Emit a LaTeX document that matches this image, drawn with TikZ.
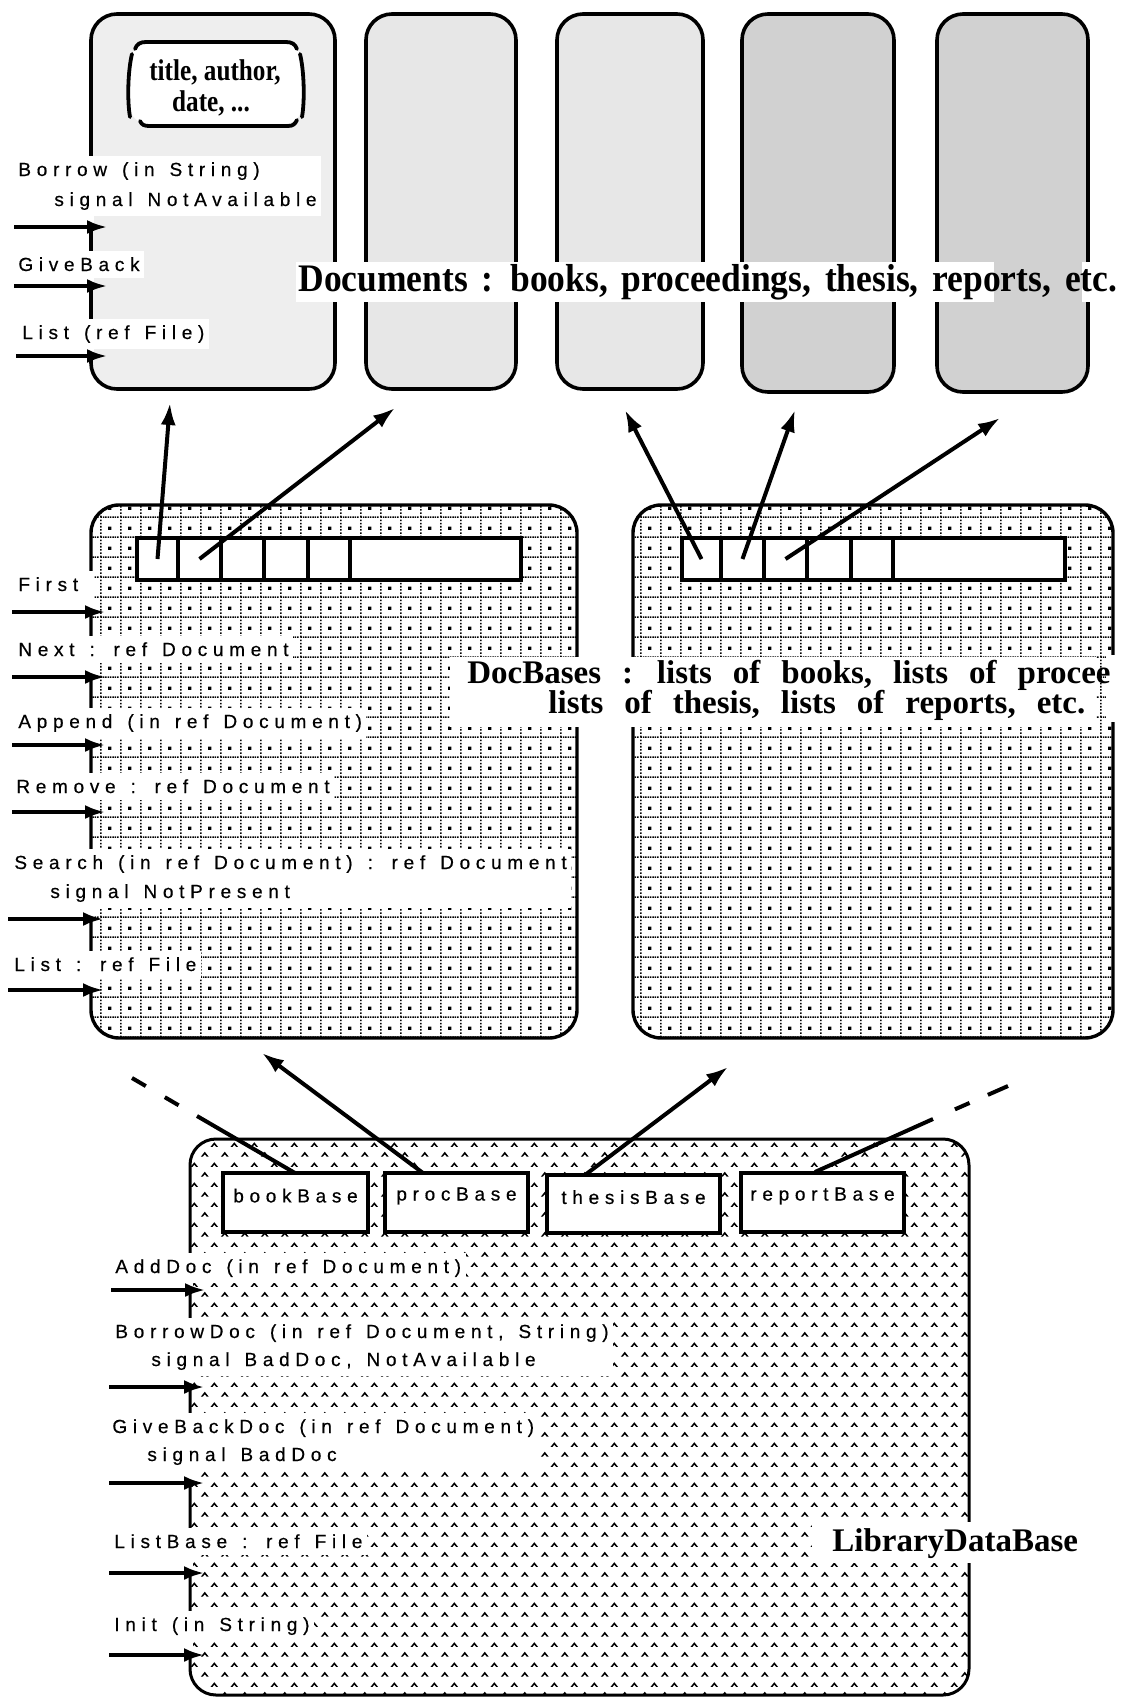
\documentclass[tikz,border=0pt]{standalone}
\usepackage{fontspec}
\usetikzlibrary{arrows.meta,fit,patterns}
\newfontfamily\opfont{Liberation Sans}[LetterSpace=30,FakeBold=0.5]
\newfontfamily\docfont{Liberation Serif}[FakeStretch=0.91]
\newfontfamily\basefont{Liberation Serif}
\newfontfamily\titlefont{Liberation Serif}[FakeStretch=0.84]
\newcommand\opsp{\spaceskip=7.5pt\relax}
\newcommand\docsp{\spaceskip=6.9pt\relax}
\newcommand\dbsp{\spaceskip=10.5pt\relax}
\pgfdeclarelayer{boxes}
\pgfdeclarelayer{blocks}
\pgfsetlayers{boxes,blocks,main}
\newcommand\mycaret[2]{%
  \pgfpathmoveto{\pgfpoint{#1pt-2.0pt}{#2pt-1.2pt}}%
  \pgfpathlineto{\pgfpoint{#1pt}{#2pt+1.3pt}}%
  \pgfpathlineto{\pgfpoint{#1pt+2.0pt}{#2pt-1.2pt}}%
  \pgfpathlineto{\pgfpoint{#1pt+1.0pt}{#2pt-1.2pt}}%
  \pgfpathlineto{\pgfpoint{#1pt}{#2pt+0.0pt}}%
  \pgfpathlineto{\pgfpoint{#1pt-1.0pt}{#2pt-1.2pt}}%
  \pgfpathclose\pgfusepath{fill}}
\pgfdeclarepatternformonly{carets}{\pgfqpoint{0pt}{0pt}}{\pgfqpoint{10pt}{10pt}}{\pgfqpoint{10pt}{10pt}}{\mycaret{2.5}{2.5}\mycaret{7.5}{7.5}}
\pgfdeclarepatternformonly{dbgrid}{\pgfqpoint{0pt}{0pt}}{\pgfqpoint{10pt}{10pt}}{\pgfqpoint{10pt}{10pt}}{%
  \foreach \k in {0,...,7}{\pgfpathrectangle{\pgfpoint{\k*1.25pt+0.2pt}{0.1pt}}{\pgfqpoint{0.8pt}{0.8pt}}\pgfusepath{fill}}%
  \foreach \k in {0,...,5}{\pgfpathrectangle{\pgfpoint{0.1pt}{\k*1.6667pt+0.5pt}}{\pgfqpoint{0.8pt}{0.8pt}}\pgfusepath{fill}}%
  \pgfpathrectangle{\pgfqpoint{4.3pt}{4.3pt}}{\pgfqpoint{1.6pt}{1.6pt}}\pgfusepath{fill}%
}
\begin{document}
\begin{tikzpicture}[x=0.5pt,y=-0.5pt,
  docbox/.style={draw, line width=1.8pt, rounded corners=13pt, inner sep=0pt},
  dbbox/.style={draw, line width=1.7pt, rounded corners=14pt, inner sep=0pt, pattern=dbgrid, pattern color=black},
  libbox/.style={draw, line width=1.5pt, rounded corners=13pt, inner sep=0pt, pattern=carets, pattern color=black},
  cell/.style={draw, fill=white, line width=1.6pt, inner sep=0pt},
  opfnt/.style={font=\opfont\fontsize{9.5pt}{12pt}\selectfont\opsp},
  basebox/.style={draw, fill=white, line width=1.6pt, inner sep=0pt, opfnt},
  oplabel/.style={anchor=base west, inner xsep=2pt, inner ysep=3pt, opfnt},
  blank/.style={fill=white, draw=none, inner sep=0pt},
  stroke/.style={line width=1.9pt, line cap=round},
  oparrow/.style={line width=1.7pt, -{Latex[length=10pt,width=7pt]}},
  refarrow/.style={line width=2pt, -{Latex[length=11pt,width=7.5pt]}},
  bigtext/.style={anchor=base west, inner sep=0pt},
  dbfnt/.style={font=\basefont\bfseries\fontsize{16.5pt}{17pt}\selectfont\dbsp},
  ttlfnt/.style={font=\titlefont\bfseries\fontsize{15pt}{16pt}\selectfont},
]
\useasboundingbox (0,0) rectangle (1120,1698);
\begin{pgfonlayer}{boxes}
\node[docbox, fill=gray!13, fit={(91,14) (335,389)}] (doc1) {};
\node[docbox, fill=gray!19, fit={(366,14) (516,389)}] (doc2) {};
\node[docbox, fill=gray!19, fit={(557,14) (703,389)}] (doc3) {};
\node[docbox, fill=gray!36, fit={(742,14) (894,392)}] (doc4) {};
\node[docbox, fill=gray!36, fit={(937,14) (1088,392)}] (doc5) {};
\node[blank, rounded corners=9pt, fit={(130,44) (302,124)}] (titlebox) {};
\draw[stroke] (135,49) .. controls (137,44) and (140,42) .. (146,42) -- (286,42) .. controls (292,42) and (295,44) .. (297,49);
\draw[stroke] (132,54) .. controls (128,70) and (127,100) .. (130,117);
\draw[stroke] (300,54) .. controls (304,70) and (305,100) .. (302,117);
\draw[stroke] (140,121) .. controls (142,125) and (144,126) .. (150,126) -- (288,126) .. controls (293,126) and (295,124) .. (297,120);
\node[dbbox, fit={(91,505) (577,1038)}] (dbL) {};
\node[dbbox, fit={(633,505) (1113,1038)}] (dbR) {};
\node[cell, fit={(137,538) (178,580)}] (cL1) {};
\node[cell, fit={(178,538) (221,580)}] (cL2) {};
\node[cell, fit={(221,538) (264,580)}] (cL3) {};
\node[cell, fit={(264,538) (308,580)}] (cL4) {};
\node[cell, fit={(308,538) (350,580)}] (cL5) {};
\node[cell, fit={(350,538) (521,580)}] (cL6) {};
\node[cell, fit={(682,538) (721,580)}] (cR1) {};
\node[cell, fit={(721,538) (764,580)}] (cR2) {};
\node[cell, fit={(764,538) (807,580)}] (cR3) {};
\node[cell, fit={(807,538) (851,580)}] (cR4) {};
\node[cell, fit={(851,538) (893,580)}] (cR5) {};
\node[cell, fit={(893,538) (1065,580)}] (cR6) {};
\node[libbox, fit={(190,1139) (969,1695)}] (lib) {};
\node[basebox, fit={(223,1173) (368,1232)}] (bookBase) {bookBase};
\node[basebox, fit={(385,1173) (528,1232)}] (procBase) {procBase};
\node[basebox, fit={(547,1175) (720,1233)}] (thesisBase) {thesisBase};
\node[basebox, fit={(741,1173) (904,1232)}] (reportBase) {reportBase};
\end{pgfonlayer}

% title inside first document
\node[inner sep=0pt, anchor=base, ttlfnt] (title1) at (215,80) {title, author,};
\node[inner sep=0pt, anchor=base, ttlfnt] (title2) at (211,111) {date, ...};

% operation labels of a Document
\node[oplabel] (b1a) at (14,176) {Borrow (in String)};
\node[oplabel] (b1b) at (50,206) {signal NotAvailable};
\node[oplabel] (b2a) at (14,271) {GiveBack};
\node[oplabel] (b3a) at (18,339) {List (ref File)};

% operation labels of a DocBase
\node[oplabel] (d1a) at (14,591) {First};
\node[oplabel] (d2a) at (14,656) {Next : ref Document};
\node[oplabel] (d3a) at (14,728) {Append (in ref Document)};
\node[oplabel] (d4a) at (12,793) {Remove : ref Document};
\node[oplabel] (d5a) at (10,869) {Search (in ref Document) : ref Document};
\node[oplabel] (d5b) at (46,898) {signal NotPresent};
\node[oplabel] (d6a) at (10,971) {List : ref File};

% operation labels of the LibraryDataBase
\node[oplabel] (l1a) at (111,1273) {AddDoc (in ref Document)};
\node[oplabel] (l2a) at (111,1338) {BorrowDoc (in ref Document, String)};
\node[oplabel] (l2b) at (147,1366) {signal BadDoc, NotAvailable};
\node[oplabel] (l3a) at (108,1433) {GiveBackDoc (in ref Document)};
\node[oplabel] (l3b) at (143,1461) {signal BadDoc};
\node[oplabel] (l4a) at (110,1548) {ListBase : ref File};
\node[oplabel] (l5a) at (110,1631) {Init (in String)};

% big captions
\node[bigtext, font=\docfont\bfseries\fontsize{19.5pt}{20pt}\selectfont\docsp] (doctxt) at (298,291) {Documents : books, proceedings, thesis, reports, etc.};
\node[bigtext, dbfnt] (dbtxt1) at (467,683) {DocBases : lists of books, lists of procee};
\node[bigtext, dbfnt] (dbtxt2) at (548,713) {lists of thesis, lists of reports, etc.};
\node[bigtext, dbfnt] (libtxt) at (832,1551) {LibraryDataBase};

\begin{pgfonlayer}{blocks}
\node[blank, fit=(b1a)(b1b)] (k1) {};
\node[blank, fit=(b2a)] (k2) {};
\node[blank, fit=(b3a)] (k3) {};
\fill[white] (b1a.north west) rectangle (94,227);
\fill[white] (b2a.north west) rectangle (94,286);
\fill[white] (b3a.north west) rectangle (94,356);
\node[blank, fit=(d1a)] (k4) {};
\node[blank, fit=(d2a)] (k5) {};
\node[blank, fit=(d3a)] (k6) {};
\node[blank, fit=(d4a)] (k7) {};
\node[blank, fit=(d5a)(d5b)] (k8) {};
\node[blank, fit=(d6a)] (k9) {};
\fill[white] (d1a.north west) rectangle (94,612);
\fill[white] (d2a.north west) rectangle (94,677);
\fill[white] (d3a.north west) rectangle (94,745);
\fill[white] (d4a.north west) rectangle (94,812);
\fill[white] (d5a.north west) rectangle (94,919);
\fill[white] (d6a.north west) rectangle (94,990);
\node[blank, fit=(l1a)] (k10) {};
\node[blank, fit=(l2a)(l2b)] (k11) {};
\node[blank, fit=(l3a)(l3b)] (k12) {};
\node[blank, fit=(l4a)] (k13) {};
\node[blank, fit=(l5a)] (k14) {};
\fill[white] (l1a.north west) rectangle (193,1290);
\fill[white] (l2a.north west) rectangle (193,1387);
\fill[white] (l3a.north west) rectangle (193,1483);
\fill[white] (l4a.north west) rectangle (193,1573);
\fill[white] (l5a.north west) rectangle (193,1655);
% caption backgrounds
\fill[white] (296,262) rectangle (994,302);
\fill[white] (1082,262) rectangle (1095,302);
\fill[white] (450,657) rectangle (1096,727);
\fill[white] (1106,655) rectangle (1120,722);
\fill[white] (812,1522) rectangle (1120,1563);
\end{pgfonlayer}

% operation arrows
\coordinate (sb1) at (14,227);  \coordinate (eb1) at (107,227);
\coordinate (sb2) at (14,286);  \coordinate (eb2) at (107,286);
\coordinate (sb3) at (16,356);  \coordinate (eb3) at (107,356);
\draw[oparrow] (sb1) -- (eb1);
\draw[oparrow] (sb2) -- (eb2);
\draw[oparrow] (sb3) -- (eb3);
\coordinate (sd1) at (12,612);  \coordinate (ed1) at (105,612);
\coordinate (sd2) at (12,677);  \coordinate (ed2) at (105,677);
\coordinate (sd3) at (12,745);  \coordinate (ed3) at (105,745);
\coordinate (sd4) at (12,812);  \coordinate (ed4) at (105,812);
\coordinate (sd5) at (8,919);   \coordinate (ed5) at (103,919);
\coordinate (sd6) at (8,990);   \coordinate (ed6) at (103,990);
\foreach \i in {1,...,6}{\draw[oparrow] (sd\i) -- (ed\i);}
\coordinate (sl1) at (111,1290); \coordinate (el1) at (205,1290);
\coordinate (sl2) at (109,1387); \coordinate (el2) at (204,1387);
\coordinate (sl3) at (109,1483); \coordinate (el3) at (204,1483);
\coordinate (sl4) at (109,1573); \coordinate (el4) at (204,1573);
\coordinate (sl5) at (109,1655); \coordinate (el5) at (204,1655);
\foreach \i in {1,...,5}{\draw[oparrow] (sl\i) -- (el\i);}

% references from DocBase cells to Documents
\coordinate (t1) at (170,403);
\coordinate (t2) at (395,408);
\coordinate (t3) at (625,410);
\coordinate (t4) at (795,410);
\coordinate (t5) at (1000,418);
\draw[refarrow] (cL1.center) -- (t1);
\draw[refarrow] (cL2.center) -- (t2);
\draw[refarrow] (cR1.center) -- (t3);
\draw[refarrow] (cR2.center) -- (t4);
\draw[refarrow] (cR3.center) -- (t5);

% references from LibraryDataBase to DocBases
\coordinate (pbTop) at (423,1173);
\coordinate (tbTop) at (585,1175);
\coordinate (t6) at (262,1053);
\coordinate (t7) at (728,1067);
\draw[refarrow] (pbTop) -- (t6);
\draw[refarrow] (tbTop) -- (t7);
\coordinate (bbTop) at (295,1173);
\coordinate (bbMid) at (197,1116);
\coordinate (bbEnd) at (132,1078);
\draw[line width=2pt] (bbTop) -- (bbMid);
\draw[line width=2pt, dash pattern=on 8pt off 11pt] (bbEnd) -- (bbMid);
\coordinate (rbTop) at (815,1172);
\coordinate (rbMid) at (933,1119);
\coordinate (rbEnd) at (1008,1086);
\draw[line width=2pt] (rbTop) -- (rbMid);
\draw[line width=2pt, dash pattern=on 11pt off 10pt on 8pt off 20pt] (rbEnd) -- (rbMid);
\end{tikzpicture}
\end{document}
